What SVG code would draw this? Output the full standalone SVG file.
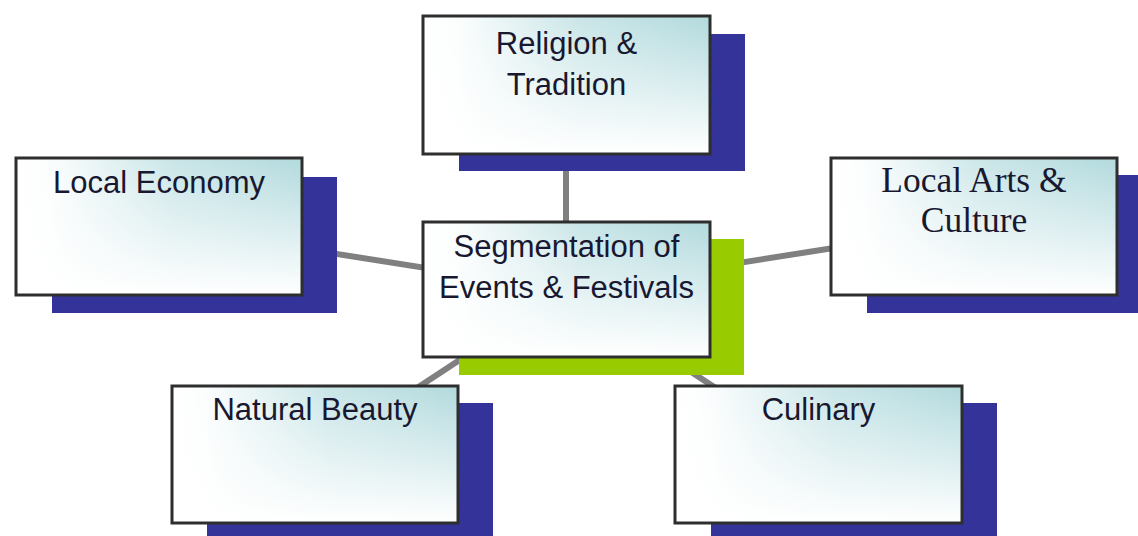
<svg xmlns="http://www.w3.org/2000/svg" width="1138" height="536" viewBox="0 0 1138 536">
<defs>
<linearGradient id="vFill" x1="0" y1="0" x2="0" y2="1">
<stop offset="0" stop-color="#b2dadd"/>
<stop offset="0.5" stop-color="#d8ecee"/>
<stop offset="1" stop-color="#ffffff"/>
</linearGradient>
<linearGradient id="hFill" x1="0" y1="0" x2="1" y2="0">
<stop offset="0" stop-color="#ffffff" stop-opacity="1"/>
<stop offset="0.12" stop-color="#ffffff" stop-opacity="0.95"/>
<stop offset="0.55" stop-color="#ffffff" stop-opacity="0.3"/>
<stop offset="1" stop-color="#ffffff" stop-opacity="0"/>
</linearGradient>
<style>
.shadow{fill:#343399}
.shadowGreen{fill:#99cc00}
.boxV{fill:url(#vFill)}
.box{fill:url(#hFill);stroke:#2e2e2e;stroke-width:3}
.conn{stroke:#808080;stroke-width:6;fill:none}
.sans{font-family:"Liberation Sans",Arial,sans-serif;font-size:31px;fill:#181830;text-anchor:middle}
.serif{font-family:"Liberation Serif","Times New Roman",serif;font-size:35.5px;fill:#181830;text-anchor:middle}
</style>
</defs>
<rect width="1138" height="536" fill="#ffffff"/>
<g id="connectors">
<line class="conn" x1="566" y1="290" x2="566" y2="86"/>
<line class="conn" x1="566" y1="290" x2="159" y2="226"/>
<line class="conn" x1="566" y1="290" x2="974" y2="226"/>
<line class="conn" x1="566" y1="290" x2="315" y2="455"/>
<line class="conn" x1="566" y1="290" x2="818" y2="455"/>
</g>
<g id="religion">
<rect class="shadow" x="459" y="34" width="286" height="137"/>
<rect class="boxV" x="423" y="16" width="287" height="138"/>
<rect class="box" x="423" y="16" width="287" height="138"/>
<text class="sans" x="566.5" y="54">Religion &amp;</text>
<text class="sans" x="566.5" y="95">Tradition</text>
</g>
<g id="local-economy">
<rect class="shadow" x="52" y="177" width="285" height="136"/>
<rect class="boxV" x="16" y="158" width="286" height="137"/>
<rect class="box" x="16" y="158" width="286" height="137"/>
<text class="sans" x="159" y="193">Local Economy</text>
</g>
<g id="local-arts">
<rect class="shadow" x="867" y="175" width="271" height="138"/>
<rect class="boxV" x="831" y="158" width="286" height="137"/>
<rect class="box" x="831" y="158" width="286" height="137"/>
<text class="serif" x="974" y="192">Local Arts &amp;</text>
<text class="serif" x="974" y="232">Culture</text>
</g>
<g id="natural-beauty">
<rect class="shadow" x="207" y="403" width="286" height="133"/>
<rect class="boxV" x="172" y="386" width="286" height="137"/>
<rect class="box" x="172" y="386" width="286" height="137"/>
<text class="sans" x="315" y="420">Natural Beauty</text>
</g>
<g id="culinary">
<rect class="shadow" x="711" y="403" width="286" height="133"/>
<rect class="boxV" x="675" y="386" width="287" height="137"/>
<rect class="box" x="675" y="386" width="287" height="137"/>
<text class="sans" x="818.5" y="420">Culinary</text>
</g>
<g id="segmentation">
<rect class="shadowGreen" x="459" y="239" width="285" height="136"/>
<rect class="boxV" x="423" y="222" width="287" height="135"/>
<rect class="box" x="423" y="222" width="287" height="135"/>
<text class="sans" x="566.5" y="257">Segmentation of</text>
<text class="sans" x="566.5" y="298">Events &amp; Festivals</text>
</g>
</svg>
